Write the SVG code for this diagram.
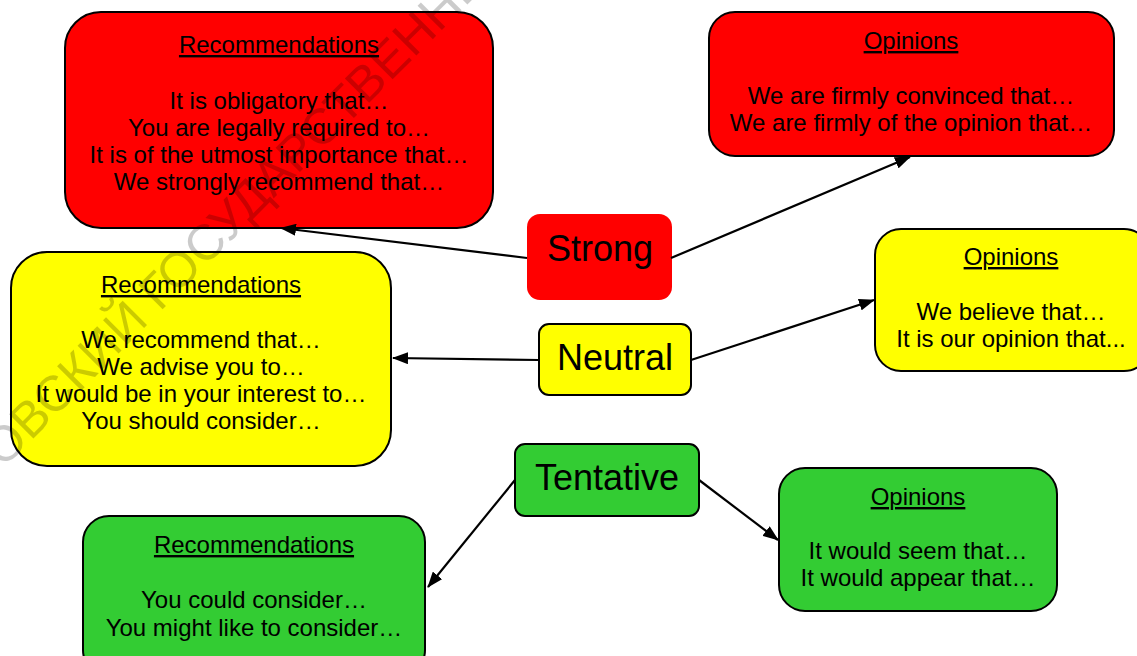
<svg xmlns="http://www.w3.org/2000/svg" width="1137" height="656" viewBox="0 0 1137 656">
<style>
.box{stroke:#000;stroke-width:2}
.red{fill:#ff0000}
.yel{fill:#ffff00}
.grn{fill:#33cc33}
text{font-family:"Liberation Sans",Arial,sans-serif;fill:#000;text-anchor:middle}
.b{font-size:24px}
.h{font-size:24px;text-decoration:underline}
.big{font-size:36px}
.conn line{stroke:#000;stroke-width:2.2;marker-end:url(#ah)}
.wm{font-size:50px;fill:#000;opacity:0.2;text-anchor:start}
</style>
<defs>
<marker id="ah" viewBox="0 0 16 12" refX="15" refY="6" markerWidth="16" markerHeight="12" orient="auto" markerUnits="userSpaceOnUse">
<path d="M0,0 L16,6 L0,12 z" fill="#000"/>
</marker>
</defs>
<rect width="1137" height="656" fill="#fff"/>

<g id="strong-rec">
<rect class="box red" x="65" y="12" width="428" height="216" rx="36"/>
<text class="h" x="279" y="53">Recommendations</text>
<text class="b" x="279" y="109">It is obligatory that…</text>
<text class="b" x="279" y="136">You are legally required to…</text>
<text class="b" x="279" y="163">It is of the utmost importance that…</text>
<text class="b" x="279" y="190">We strongly recommend that…</text>
</g>
<g id="strong-op">
<rect class="box red" x="709" y="12" width="405" height="144" rx="26"/>
<text class="h" x="911" y="49">Opinions</text>
<text class="b" x="911" y="104">We are firmly convinced that…</text>
<text class="b" x="911" y="131">We are firmly of the opinion that…</text>
</g>
<g id="strong">
<rect class="red" x="527" y="214" width="145" height="86" rx="13"/>
<text class="big" x="600" y="261">Strong</text>
</g>
<g id="neutral-rec">
<rect class="box yel" x="11" y="252" width="380" height="214" rx="36"/>
<text class="h" x="201" y="293">Recommendations</text>
<text class="b" x="201" y="348">We recommend that…</text>
<text class="b" x="201" y="375">We advise you to…</text>
<text class="b" x="201" y="402">It would be in your interest to…</text>
<text class="b" x="201" y="429">You should consider…</text>
</g>
<g id="neutral">
<rect class="box yel" x="539" y="324" width="152" height="71" rx="10"/>
<text class="big" x="615" y="370">Neutral</text>
</g>
<g id="neutral-op">
<rect class="box yel" x="875" y="229" width="275" height="142" rx="26"/>
<text class="h" x="1011" y="265">Opinions</text>
<text class="b" x="1011" y="320">We believe that…</text>
<text class="b" x="1011" y="347">It is our opinion that...</text>
</g>
<g id="tentative">
<rect class="box grn" x="515" y="444" width="184" height="72" rx="10"/>
<text class="big" x="607" y="490">Tentative</text>
</g>
<g id="tentative-rec">
<rect class="box grn" x="83" y="516" width="342" height="160" rx="26"/>
<text class="h" x="254" y="553">Recommendations</text>
<text class="b" x="254" y="608">You could consider…</text>
<text class="b" x="254" y="636">You might like to consider…</text>
</g>
<g id="tentative-op">
<rect class="box grn" x="779" y="468" width="278" height="143" rx="26"/>
<text class="h" x="918" y="505">Opinions</text>
<text class="b" x="918" y="559">It would seem that…</text>
<text class="b" x="918" y="586">It would appear that…</text>
</g>

<g id="connectors" class="conn">
<line x1="527" y1="258" x2="281" y2="228"/>
<line x1="671" y1="258" x2="910" y2="157"/>
<line x1="539" y1="360" x2="393" y2="358"/>
<line x1="691" y1="360" x2="874" y2="300"/>
<line x1="515" y1="480" x2="428" y2="587"/>
<line x1="699" y1="480" x2="778" y2="540"/>
</g>

<text class="wm" transform="translate(3,469) rotate(-45)">ОВСКИЙ ГОСУДАРСТВЕННЫЙ</text>
</svg>
